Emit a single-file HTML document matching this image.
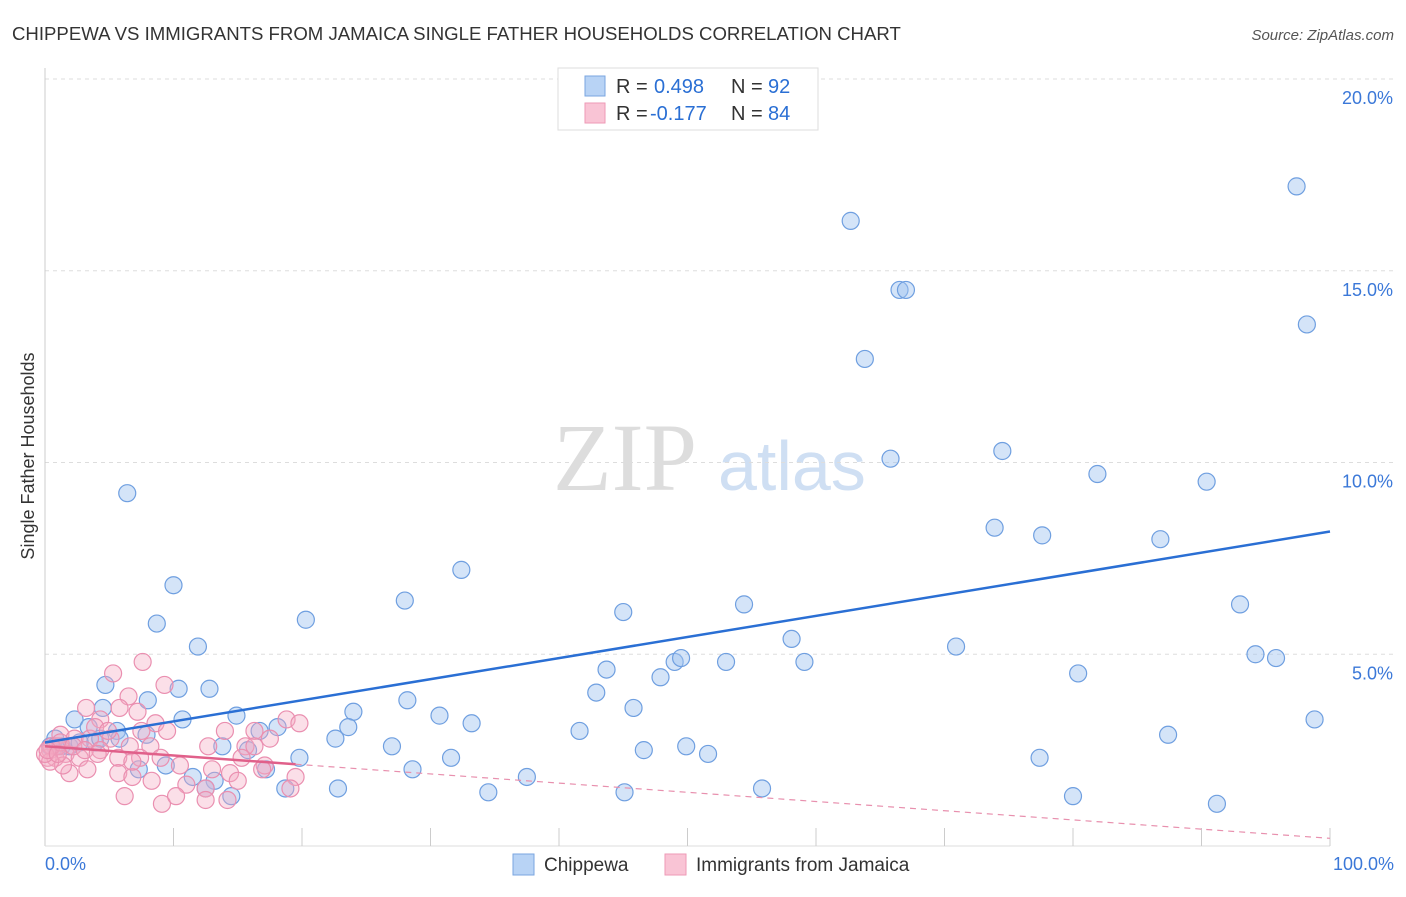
<!DOCTYPE html>
<html><head><meta charset="utf-8"><style>
body{margin:0;background:#fff;font-family:"Liberation Sans",sans-serif;}
</style></head><body>
<svg id="chart" width="1406" height="892" xmlns="http://www.w3.org/2000/svg" font-family="Liberation Sans, sans-serif">
<text x="12" y="40" font-size="18.6" fill="#333">CHIPPEWA VS IMMIGRANTS FROM JAMAICA SINGLE FATHER HOUSEHOLDS CORRELATION CHART</text>
<text x="1394" y="40" font-size="15" fill="#555" text-anchor="end" font-style="italic">Source: ZipAtlas.com</text>
<text x="553" y="490" font-size="96" fill="#ddd" style="font-family:'Liberation Serif',serif">ZIP</text>
<text x="718" y="490" font-size="70" fill="#cfdff3">atlas</text>
<text x="34" y="456" font-size="18" fill="#333" text-anchor="middle" transform="rotate(-90 34 456)">Single Father Households</text>
<g id="grid"></g><g id="pts"></g><g id="lines"></g>
<g>
<rect x="558" y="68" width="260" height="62" fill="#fff" stroke="#ddd"/>
<rect x="585" y="76" width="20" height="20" fill="#b8d3f5" stroke="#7aa6e0"/>
<rect x="585" y="103" width="20" height="20" fill="#f9c4d5" stroke="#ee9ab6"/>
<text x="616" y="93" font-size="20" fill="#333">R =</text>
<text x="654" y="93" font-size="20" fill="#2a6fd4">0.498</text>
<text x="731" y="93" font-size="20" fill="#333">N =</text>
<text x="768" y="93" font-size="20" fill="#2a6fd4">92</text>
<text x="616" y="120" font-size="20" fill="#333">R =</text>
<text x="650" y="120" font-size="20" fill="#2a6fd4">-0.177</text>
<text x="731" y="120" font-size="20" fill="#333">N =</text>
<text x="768" y="120" font-size="20" fill="#2a6fd4">84</text>
</g>
<g>
<rect x="513" y="854" width="21" height="21" fill="#b8d3f5" stroke="#7aa6e0"/>
<text x="544" y="871" font-size="19" fill="#333">Chippewa</text>
<rect x="665" y="854" width="21" height="21" fill="#f9c4d5" stroke="#ee9ab6"/>
<text x="696" y="871" font-size="19" fill="#333">Immigrants from Jamaica</text>
</g>
</svg>
<script>
const yTicks=[5,10,15,20];
const yTickLabels=["5.0%","10.0%","15.0%","20.0%"];
const xLabels=["0.0%","100.0%"];
const blueX=[6.4,10,8.7,11.9,4.7,10.4,12.8,8,4.5,10.7,14.9,2.3,5.6,7.9,0.8,3.4,18.1,16.7,20.3,24,23.6,22.6,27,28,28.2,32.4,30.7,33.2,31.6,28.6,37.5,34.5,41.6,42.9,43.7,45,45.8,46.6,47.9,49,49.5,49.9,51.6,53,54.4,55.8,45.1,58.1,59.1,62.7,63.8,65.8,66.5,67,70.9,73.9,74.5,77.6,77.4,80,80.4,81.9,86.8,87.4,90.4,91.2,93,94.2,95.8,97.4,98.2,98.8,22.8,19.8,18.7,17.2,15.8,14.5,13.2,12.5,11.5,9.4,7.3,13.8,5.8,3.9,1.3,1.9,0.4,0.8,2.7,4.3];
const blueY=[9.2,6.8,5.8,5.2,4.2,4.1,4.1,3.8,3.6,3.3,3.4,3.3,3.0,2.9,2.8,3.1,3.1,3.0,5.9,3.5,3.1,2.8,2.6,6.4,3.8,7.2,3.4,3.2,2.3,2.0,1.8,1.4,3.0,4.0,4.6,6.1,3.6,2.5,4.4,4.8,4.9,2.6,2.4,4.8,6.3,1.5,1.4,5.4,4.8,16.3,12.7,10.1,14.5,14.5,5.2,8.3,10.3,8.1,2.3,1.3,4.5,9.7,8.0,2.9,9.5,1.1,6.3,5.0,4.9,17.2,13.6,3.3,1.5,2.3,1.5,2.0,2.5,1.3,1.7,1.5,1.8,2.1,2.0,2.6,2.8,2.7,2.6,2.6,2.6,2.6,2.7,2.8];
const pinkX=[7.6,5.3,9.3,6.5,5.8,3.2,7.2,4.3,8.6,9.5,14,16.3,18.8,19.8,1.2,2.3,3.5,5.1,6.6,8.2,12.7,15.6,0.4,0.8,1.6,2.7,4.3,5.7,7.4,9,10.5,15.3,17.1,1.9,3.3,5.7,6.8,8.3,11,12.5,14.4,15,16.9,19.5,19.1,6.2,9.1,12.5,14.2,10.2,1,0.2,0.5,3.9,4.9,1.2,2.2,3.1,1.4,4.1,7.5,6.8,13,16.3,17.5,0.4,0,0.2,1];
const pinkY=[4.8,4.5,4.2,3.9,3.6,3.6,3.5,3.3,3.2,3.0,3.0,3.0,3.3,3.2,2.9,2.8,2.8,2.8,2.6,2.6,2.6,2.6,2.5,2.3,2.4,2.3,2.5,2.3,2.3,2.3,2.1,2.3,2.1,1.9,2.0,1.9,1.8,1.7,1.6,1.5,1.9,1.7,2.0,1.8,1.5,1.3,1.1,1.2,1.2,1.3,2.6,2.3,2.6,3.1,3.0,2.7,2.6,2.5,2.1,2.4,3.0,2.2,2.0,2.6,2.8,2.2,2.4,2.5,2.4];
const blueTrend=[2.7,8.2], pinkTrend=[2.6,0.2], pinkSolidEnd=19.5;
const X=v=>45+v*12.85, Y=v=>846-v*38.35;
const NS="http://www.w3.org/2000/svg";
function mk(t,a,p){const e=document.createElementNS(NS,t);for(const k in a)e.setAttribute(k,a[k]);p.appendChild(e);return e;}
const grid=document.getElementById('grid');
yTicks.forEach((t,i)=>{
 const l=mk('line',{x1:45,x2:1394,y1:Y(t),y2:Y(t),stroke:'#ddd','stroke-dasharray':'4,4'},grid);
 
 
 const tx=mk('text',{x:1393,y:Y(t)+25,'font-size':18,fill:'#3b78d8','text-anchor':'end'},grid);
 tx.textContent=yTickLabels[i];
 
 
});
mk('line',{x1:45,x2:45,y1:68,y2:846,stroke:'#ccc'},grid);
mk('line',{x1:45,x2:1330,y1:846,y2:846,stroke:'#ddd'},grid);
for(let i=1;i<=10;i++){mk('line',{x1:X(i*10),x2:X(i*10),y1:828,y2:846,stroke:'#ccc'},grid);}
xLabels.forEach((s,i)=>{const t=mk('text',{x:i?1394:45,y:870,'font-size':18,fill:'#3b78d8','text-anchor':i?'end':'start'},grid);t.textContent=s;
 
 });
const pts=document.getElementById('pts');
blueX.forEach((x,i)=>{const c=mk('circle',{cx:X(x),cy:Y(blueY[i]),r:8.5,fill:'rgba(160,196,240,0.45)',stroke:'#6f9fe0','stroke-width':1.2},pts);
 
 });
pinkX.forEach((x,i)=>{const c=mk('circle',{cx:X(x),cy:Y(pinkY[i]),r:8.5,fill:'rgba(245,170,195,0.38)',stroke:'#ea8fb0','stroke-width':1.2},pts);
 
 });
const L=document.getElementById('lines');
const b=mk('line',{x1:X(0),y1:Y(blueTrend[0]),x2:X(100),y2:Y(blueTrend[1]),stroke:'#2a6fd4','stroke-width':2.5},L);


const py=v=>pinkTrend[0]+(pinkTrend[1]-pinkTrend[0])*v/100;
const p1=mk('line',{x1:X(0),y1:Y(py(0)),x2:X(pinkSolidEnd),y2:Y(py(pinkSolidEnd)),stroke:'#e0608a','stroke-width':2.5},L);


const p2=mk('line',{x1:X(pinkSolidEnd),y1:Y(py(pinkSolidEnd)),x2:X(100),y2:Y(py(100)),stroke:'#e890ae','stroke-width':1.2,'stroke-dasharray':'6,5'},L);


</script>
</body></html>
